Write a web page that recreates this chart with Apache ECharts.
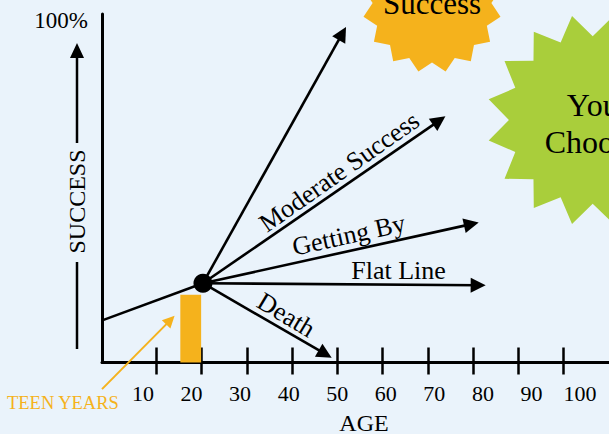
<!DOCTYPE html>
<html><head><meta charset="utf-8">
<script src="https://cdn.jsdelivr.net/npm/echarts@6/dist/echarts.min.js"></script>
<style>html,body{margin:0;padding:0;background:#EAF3FB;}#c{width:609px;height:434px;}</style>
</head><body><div id="c"></div>
<script>
// ---- data ----
const ageTicks = [10, 20, 30, 40, 50, 60, 70, 80, 90, 100];
const successTicks = [100];
const startPoint = [-1.8, 12.4];
const turningPoint = [20.3, 23.2];
const pathNames = ['Success', 'Moderate Success', 'Getting By', 'Flat Line', 'Death'];
const pathEnds = [[51.1, 96.3], [72.5, 70.8], [79.6, 40.5], [81.1, 22.6], [47.3, 2.5]];
const teenYears = [15.3, 19.9];
const teenLevel = 19.8;
const teenArrow = [[-2.0, -7.8], [13.1, 12.4]];
const pathLabels = ['Moderate Success', 'Getting By', 'Flat Line', 'Death'];
const pathLabelAt = [[50.4, 55.8], [52.5, 37.3], [63.5, 26.9], [38.7, 13.9]];
const pathLabelAngle = [35, 12.5, 0, -31];
const bursts = ['Success', 'You\nChoose'];
const burstAt = [[70.9, 105.2], [106.4, 71.0]];

// ---- styles ----
const SERIF = '"Liberation Serif","Times New Roman",serif';
const ORANGE = '#F5B21C';
const GREEN = '#A9CE3B';
const INK = '#000000';

function starPath(n, inner) {
  const pts = [];
  for (let i = 0; i < 2 * n; i++) {
    const r = (i % 2 === 0) ? 100 : 100 * inner;
    const a = (i + 1) * Math.PI / n;
    pts.push((r * Math.cos(a)).toFixed(2) + ' ' + (r * Math.sin(a)).toFixed(2));
  }
  return 'path://M' + pts.join(' L') + ' Z';
}

const chart = echarts.init(document.getElementById('c'), null, { renderer: 'svg' });
const tickStyle = { color: INK, width: 2.5 };
chart.setOption({
  backgroundColor: '#EAF3FB',
  animation: false,
  grid: { left: 102, right: 0, top: 14, bottom: 71.5, containLabel: false, outerBoundsMode: 'none' },
  xAxis: [
    { type: 'value', min: -2, max: 110,
      axisLine: { show: true, onZero: false, lineStyle: { color: INK, width: 3 } },
      axisTick: { show: true, inside: true, length: 15, customValues: ageTicks, lineStyle: tickStyle },
      axisLabel: { show: false }, splitLine: { show: false } },
    { type: 'value', min: -2, max: 110, position: 'bottom',
      axisLine: { show: false, onZero: false },
      axisTick: { show: true, inside: false, length: 12, customValues: ageTicks, lineStyle: tickStyle },
      axisLabel: { show: false }, splitLine: { show: false } },
    { type: 'value', min: 1.57, max: 105.97, position: 'bottom',
      axisLine: { show: false, onZero: false }, axisTick: { show: false }, splitLine: { show: false },
      axisLabel: { customValues: ageTicks, margin: 20, fontFamily: SERIF, fontSize: 22, color: '#000' },
      name: 'AGE', nameLocation: 'middle', nameGap: 48,
      nameTextStyle: { fontFamily: SERIF, fontSize: 24, lineHeight: 24, color: '#000', padding: [0, 0, 0, 17] } }
  ],
  yAxis: { type: 'value', min: 0, max: 102,
    axisLine: { show: true, onZero: false, lineStyle: { color: INK, width: 3 } },
    axisTick: { show: false }, splitLine: { show: false },
    axisLabel: { customValues: successTicks, formatter: v => v + '%', margin: 14,
      fontFamily: SERIF, fontSize: 23, color: '#000' } },
  graphic: [
    { type: 'line', shape: { x1: 77, y1: 349, x2: 77, y2: 262 }, style: { stroke: INK, lineWidth: 2.5 } },
    { type: 'line', shape: { x1: 77, y1: 143, x2: 77, y2: 55 }, style: { stroke: INK, lineWidth: 2.5 } },
    { type: 'polygon', shape: { points: [[77, 43], [70, 58], [84, 58]] }, style: { fill: INK } },
    { type: 'text', x: 77, y: 201.5, rotation: Math.PI / 2,
      style: { text: 'SUCCESS', font: '24px ' + SERIF, fill: '#000', align: 'center', verticalAlign: 'middle',
               textAlign: 'center', textVerticalAlign: 'middle' } },
    { type: 'text', x: 7, y: 403,
      style: { text: 'TEEN YEARS', font: '18.5px ' + SERIF, fill: ORANGE, align: 'left', verticalAlign: 'middle',
               textAlign: 'left', textVerticalAlign: 'middle' } }
  ],
  series: [
    { type: 'line', xAxisIndex: 0, yAxisIndex: 0, data: [startPoint, turningPoint], symbol: 'none',
      lineStyle: { color: INK, width: 2.6 }, z: 3,
      markArea: { silent: true, itemStyle: { color: ORANGE, opacity: 1 },
        data: [[{ xAxis: teenYears[0], yAxis: 0 }, { xAxis: teenYears[1], yAxis: teenLevel }]] } },
    { type: 'lines', coordinateSystem: 'cartesian2d', xAxisIndex: 0, yAxisIndex: 0, clip: false,
      data: pathEnds.map((e, i) => ({ name: pathNames[i], coords: [turningPoint, e] })),
      symbol: ['none', 'triangle'], symbolSize: 15,
      lineStyle: { color: INK, width: 2.6, opacity: 1, curveness: 0 }, z: 3 },
    { type: 'lines', coordinateSystem: 'cartesian2d', xAxisIndex: 0, yAxisIndex: 0, clip: false,
      data: [{ coords: teenArrow }], symbol: ['none', 'triangle'], symbolSize: 12,
      lineStyle: { color: ORANGE, width: 2, opacity: 1, curveness: 0 }, z: 3 },
    { type: 'scatter', xAxisIndex: 0, yAxisIndex: 0, data: [turningPoint], symbolSize: 19,
      itemStyle: { color: INK, opacity: 1 }, z: 5 },
    { type: 'scatter', xAxisIndex: 0, yAxisIndex: 0, symbolSize: 0, clip: false, z: 4,
      itemStyle: { opacity: 1 },
      data: pathLabels.map((n, i) => ({ name: n, value: pathLabelAt[i],
        label: { rotate: pathLabelAngle[i] } })),
      label: { show: true, position: 'inside', formatter: p => p.name,
        fontFamily: SERIF, fontSize: 26, color: '#000' } },
    { type: 'scatter', xAxisIndex: 0, yAxisIndex: 0, clip: false, z: 2,
      data: bursts.map((n, i) => ({ name: n, value: burstAt[i],
        symbol: i === 0 ? starPath(16, 0.85) : starPath(16, 0.79),
        symbolSize: i === 0 ? 137 : 208,
        itemStyle: { color: i === 0 ? ORANGE : GREEN, opacity: 1 },
        label: { fontSize: i === 0 ? 31 : 32, lineHeight: 37, offset: i === 0 ? [0, 0] : [0, 4] } })),
      label: { show: true, position: 'inside', formatter: p => p.name,
        fontFamily: SERIF, color: '#000' } }
  ]
});
</script></body></html>
